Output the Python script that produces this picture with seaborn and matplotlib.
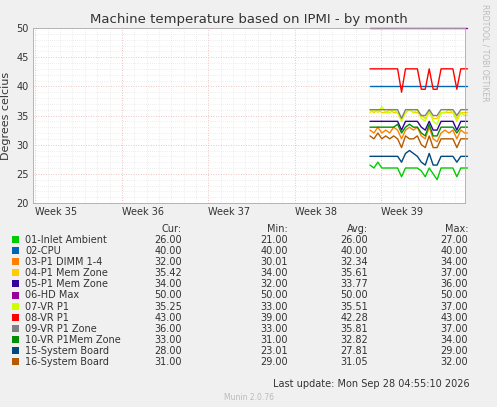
import matplotlib
matplotlib.use("Agg")
import matplotlib.pyplot as plt
import numpy as np
import pandas as pd
import seaborn as sns

sns.set_theme(style="white")
plt.rcParams["font.family"] = "DejaVu Sans"

# time in days since start of week 35
days = [27.10, 27.42, 27.74, 28.06, 28.38, 28.70, 29.02, 29.34, 29.66, 29.98, 30.30, 30.62, 30.94,
        31.26, 31.58, 31.90, 32.22, 32.54, 32.86, 33.18, 33.50, 33.82, 34.14, 34.46, 34.78, 35.00]

names = ["01-Inlet Ambient", "02-CPU", "03-P1 DIMM 1-4", "04-P1 Mem Zone", "05-P1 Mem Zone",
         "06-HD Max", "07-VR P1", "08-VR P1", "09-VR P1 Zone", "10-VR P1Mem Zone",
         "15-System Board", "16-System Board"]
colors = ["#00CC00", "#0066B3", "#FF8000", "#FFCC00", "#330099", "#990099",
          "#CCFF00", "#FF0000", "#808080", "#008F00", "#00487D", "#B35A00"]
cur = ["26.00", "40.00", "32.00", "35.42", "34.00", "50.00", "35.25", "43.00", "36.00", "33.00", "28.00", "31.00"]
mins = ["21.00", "40.00", "30.01", "34.00", "32.00", "50.00", "33.00", "39.00", "33.00", "31.00", "23.01", "29.00"]
avgs = ["26.00", "40.00", "32.34", "35.61", "33.77", "50.00", "35.51", "42.28", "35.81", "32.82", "27.81", "31.05"]
maxs = ["27.00", "40.00", "34.00", "37.00", "36.00", "50.00", "37.00", "43.00", "37.00", "34.00", "29.00", "32.00"]

values = [
    [26.5, 26.0, 27.0, 26.0, 26.0, 26.0, 26.0, 26.0, 24.5, 26.0, 26.0, 26.0, 26.0, 25.5, 24.5, 26.0, 25.0, 24.0, 26.0, 26.0, 26.0, 26.0, 24.5, 26.0, 26.0, 26.0],
    [40.0] * 26,
    [32.5, 32.0, 33.0, 32.0, 32.5, 32.0, 33.0, 32.5, 31.0, 32.5, 33.0, 32.5, 33.0, 31.5, 31.0, 33.0, 31.0, 30.5, 32.0, 32.5, 32.0, 32.5, 31.0, 32.5, 32.0, 32.0],
    [36.0, 35.5, 36.0, 35.5, 35.5, 36.0, 35.5, 35.5, 34.5, 35.5, 36.0, 35.5, 35.5, 35.0, 34.5, 35.5, 34.5, 34.5, 35.5, 35.5, 35.5, 35.5, 34.5, 35.5, 35.5, 35.5],
    [34.0, 34.0, 34.0, 34.0, 34.0, 34.0, 34.0, 34.0, 32.5, 34.0, 34.0, 34.0, 34.0, 33.0, 32.5, 34.0, 32.5, 32.5, 34.0, 34.0, 34.0, 34.0, 32.5, 34.0, 34.0, 34.0],
    [50.0] * 26,
    [35.5, 36.0, 35.5, 36.5, 35.5, 35.5, 36.0, 35.5, 34.0, 35.5, 36.0, 35.5, 36.0, 34.5, 34.0, 36.0, 34.0, 33.5, 35.5, 35.5, 36.0, 35.5, 34.0, 35.5, 35.0, 35.0],
    [43.0, 43.0, 43.0, 43.0, 43.0, 43.0, 43.0, 43.0, 39.0, 43.0, 43.0, 43.0, 43.0, 39.5, 39.5, 43.0, 39.5, 39.5, 43.0, 43.0, 43.0, 43.0, 39.5, 43.0, 43.0, 43.0],
    [36.0, 36.0, 36.0, 36.0, 36.0, 36.0, 36.0, 36.0, 34.5, 36.0, 36.0, 36.0, 36.0, 35.0, 35.0, 36.0, 35.0, 35.0, 36.0, 36.0, 36.0, 36.0, 35.0, 36.0, 36.0, 36.0],
    [33.0, 33.0, 33.0, 33.0, 33.0, 33.0, 33.0, 33.5, 32.0, 33.0, 33.5, 33.0, 33.0, 32.0, 31.5, 33.5, 31.5, 31.5, 33.0, 33.0, 33.0, 33.0, 32.0, 33.0, 33.0, 33.0],
    [28.0, 28.0, 28.0, 28.0, 28.0, 28.0, 28.0, 28.0, 27.0, 28.5, 29.0, 28.5, 28.0, 27.0, 26.5, 28.5, 26.5, 26.5, 28.0, 28.0, 28.0, 28.0, 27.0, 28.0, 28.0, 28.0],
    [31.5, 31.0, 32.0, 31.0, 31.5, 31.0, 31.5, 31.0, 29.5, 31.5, 31.0, 31.0, 31.5, 30.0, 29.5, 31.5, 29.5, 29.5, 31.0, 31.0, 31.0, 31.0, 29.5, 31.0, 31.0, 31.0],
]

week_labels = ["Week 35", "Week 36", "Week 37", "Week 38", "Week 39"]
week_starts = [0, 7, 14, 21, 28]

fig = plt.figure(figsize=(4.97, 4.07), dpi=100, facecolor="#F0F0F0")
ax = fig.add_axes([33 / 497, 1 - 203 / 407, 432 / 497, 175 / 407])
ax.set_facecolor("white")

rows = []
for n, v in zip(names, values):
    rows += [{"day": d, "temp": t, "sensor": n} for d, t in zip(days, v)]
df = pd.DataFrame(rows)
sns.lineplot(data=df, x="day", y="temp", hue="sensor", palette=colors, linewidth=1,
             legend=False, ax=ax)
for ln in ax.get_lines():
    ln.set_clip_on(False)

ax.set_xlim(-0.2, 34.8)
ax.set_ylim(20, 50)
ax.set_yticks(range(20, 51, 5))
ax.set_yticks(np.arange(20, 50.1, 1), minor=True)
ax.set_xticks(week_starts)
ax.set_xticklabels(week_labels)
ax.set_xticks(np.arange(0, 35, 1), minor=True)
ax.grid(which="major", axis="both", color="#E8B0B0", linestyle=(0, (1, 2)), linewidth=0.6)
ax.grid(which="minor", axis="both", color="#DDDDDD", linestyle=(0, (1, 2)), linewidth=0.5)
for s in ax.spines.values():
    s.set_color("#AAAAAA")
    s.set_linewidth(0.6)
ax.tick_params(labelsize=7, colors="#333333", length=0, pad=3)
for lbl in ax.get_xticklabels():
    lbl.set_horizontalalignment("left")
ax.set_xlabel("")
ax.set_ylabel("Degrees celcius", fontsize=8, color="#333333", labelpad=4)

fig.text(0.5, 1 - 19 / 407, "Machine temperature based on IPMI - by month", ha="center",
         va="center", fontsize=9.5, color="#333333")
fig.text(0.975, 0.87, "RRDTOOL / TOBI OETIKER", rotation=270, ha="center", va="center",
         fontsize=5.5, color="#BBBBBB")

fs = 7
y0 = 229
fig.text(182 / 497, 1 - y0 / 407, "Cur:", ha="right", va="center", fontsize=fs, color="#333333")
fig.text(288 / 497, 1 - y0 / 407, "Min:", ha="right", va="center", fontsize=fs, color="#333333")
fig.text(368 / 497, 1 - y0 / 407, "Avg:", ha="right", va="center", fontsize=fs, color="#333333")
fig.text(468 / 497, 1 - y0 / 407, "Max:", ha="right", va="center", fontsize=fs, color="#333333")
for i, n in enumerate(names):
    y = 1 - (y0 + 11 + i * 11.1) / 407
    fig.patches.append(plt.Rectangle((12 / 497, y - 3 / 407), 7 / 497, 7 / 407,
                                     transform=fig.transFigure, facecolor=colors[i],
                                     edgecolor="none"))
    fig.text(25 / 497, y, n, ha="left", va="center", fontsize=fs, color="#333333")
    for xr, col in zip([182, 288, 368, 468], [cur, mins, avgs, maxs]):
        fig.text(xr / 497, y, col[i], ha="right", va="center", fontsize=fs, color="#333333")
fig.text(470 / 497, 1 - 384 / 407, "Last update: Mon Sep 28 04:55:10 2026", ha="right",
         va="center", fontsize=fs, color="#333333")
fig.text(0.5, 1 - 397 / 407, "Munin 2.0.76", ha="center", va="center", fontsize=5.5,
         color="#BBBBBB")

fig.savefig("out.png", dpi=100, facecolor=fig.get_facecolor())
